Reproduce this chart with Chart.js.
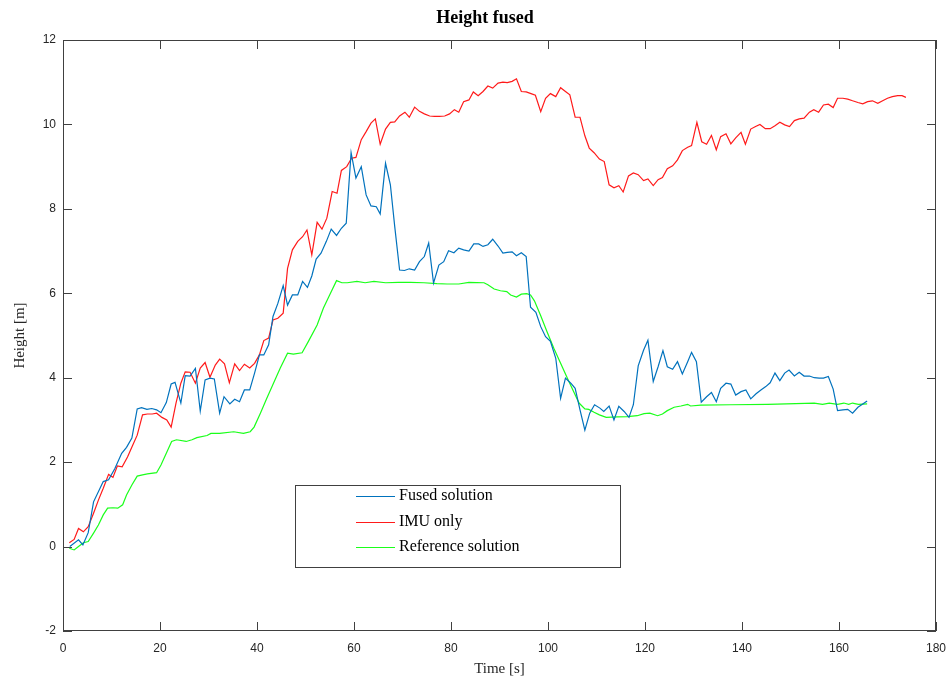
<!DOCTYPE html>
<html>
<head>
<meta charset="utf-8">
<title>Height fused</title>
<script src="https://cdn.jsdelivr.net/npm/chart.js@4.4.1/dist/chart.umd.min.js"></script>
<style>
    html, body { margin: 0; padding: 0; background: #fff; }
    #wrap { width: 946px; height: 679px; }
</style>
</head>
<body>
<div id="wrap"><canvas id="heightChart" width="946" height="679"></canvas></div>
<script>
// Fused solution
const fusedTime = [1.4, 3.2, 4.1, 5.2, 6.3, 8.3, 9.4, 10.7, 12.1, 13.1, 14.2, 15.3, 16.2, 17.3, 18.3, 19.3, 20.2, 21.3, 22.3, 23.1,
    24.3, 25.2, 26.2, 27.3, 28.3, 29.3, 30.3, 31.2, 32.3, 33.2, 34.4, 35.4, 36.4, 37.4, 38.5, 39.5, 40.5, 41.4, 42.4, 43.3,
    44.3, 45.4, 46.3, 47.3, 48.4, 49.4, 50.4, 51.3, 52.2, 53.2, 54.3, 55.3, 56.4, 57.4, 58.4, 59.4, 60.4, 61.5, 62.5, 63.5,
    64.6, 65.4, 66.5, 67.5, 68.4, 69.4, 70.4, 71.4, 72.5, 73.5, 74.5, 75.4, 76.4, 77.5, 78.5, 79.5, 80.6, 81.6, 82.6, 83.7,
    84.7, 85.7, 86.6, 87.6, 88.6, 89.7, 90.7, 91.6, 92.6, 93.5, 94.5, 95.5, 96.4, 97.5, 98.5, 99.5, 100.5, 101.6, 102.6, 103.6,
    104.7, 105.6, 106.6, 107.6, 108.6, 109.6, 110.7, 111.5, 112.6, 113.6, 114.6, 115.7, 116.7, 117.6, 118.6, 119.7, 120.6, 121.7, 122.7, 123.7,
    124.6, 125.7, 126.7, 127.7, 128.8, 129.6, 130.6, 131.6, 132.7, 133.7, 134.7, 135.6, 136.7, 137.7, 138.7, 139.8, 140.8, 141.8, 142.9, 143.9,
    144.9, 145.8, 146.8, 147.8, 148.8, 149.7, 150.8, 151.8, 152.8, 153.9, 154.9, 155.9, 156.8, 157.8, 158.8, 159.7, 160.8, 161.8, 162.8, 163.9,
    164.9, 165.8];
const fusedHeight = [0, 0.16, 0.04, 0.33, 1.06, 1.54, 1.58, 1.85, 2.21, 2.35, 2.57, 3.26, 3.29, 3.25, 3.27, 3.24, 3.17, 3.41, 3.85, 3.89,
    3.40, 4.05, 4.04, 4.22, 3.21, 3.95, 3.99, 3.97, 3.16, 3.55, 3.38, 3.49, 3.43, 3.71, 3.71, 4.11, 4.54, 4.54, 4.78, 5.45,
    5.76, 6.18, 5.72, 5.96, 5.96, 6.28, 6.14, 6.41, 6.81, 6.95, 7.23, 7.52, 7.37, 7.54, 7.66, 9.33, 8.73, 9.0, 8.33, 8.07,
    8.05, 7.88, 9.08, 8.57, 7.58, 6.55, 6.54, 6.58, 6.55, 6.75, 6.87, 7.19, 6.24, 6.67, 6.75, 7.01, 6.96, 7.07, 7.03, 7.0,
    7.17, 7.17, 7.11, 7.15, 7.28, 7.12, 6.95, 6.97, 6.98, 6.89, 6.96, 6.87, 5.67, 5.55, 5.21, 4.97, 4.86, 4.46, 3.51, 3.99,
    3.87, 3.75, 3.24, 2.76, 3.16, 3.36, 3.28, 3.2, 3.33, 3.0, 3.32, 3.2, 3.06, 3.36, 4.28, 4.65, 4.89, 3.91, 4.26, 4.64,
    4.26, 4.2, 4.38, 4.09, 4.38, 4.6, 4.38, 3.42, 3.55, 3.65, 3.43, 3.75, 3.87, 3.85, 3.59, 3.67, 3.71, 3.5, 3.62, 3.71,
    3.79, 3.88, 4.11, 3.93, 4.11, 4.18, 4.04, 4.13, 4.04, 4.04, 4.0, 3.99, 3.99, 4.03, 3.73, 3.22, 3.24, 3.25, 3.16, 3.3,
    3.38, 3.45];

// IMU only
const imuTime = [1.3, 2.3, 3.2, 4.2, 5.2, 6.3, 7.3, 8.3, 9.4, 10.3, 11.2, 12.2, 13.3, 14.3, 15.3, 16.4, 17.4, 18.4, 19.3, 20.4,
    21.4, 22.3, 23.3, 24.3, 25.2, 26.2, 27.3, 28.3, 29.3, 30.3, 31.4, 32.3, 33.3, 34.3, 35.4, 36.4, 37.4, 38.5, 39.5, 40.5,
    41.4, 42.4, 43.3, 44.3, 45.4, 46.3, 47.3, 48.4, 49.4, 50.3, 51.3, 52.4, 53.4, 54.4, 55.5, 56.5, 57.4, 58.5, 59.5, 60.4,
    61.5, 62.5, 63.5, 64.4, 65.4, 66.5, 67.5, 68.4, 69.4, 70.5, 71.4, 72.5, 73.5, 74.5, 75.6, 76.6, 77.6, 78.7, 79.7, 80.7,
    81.6, 82.6, 83.7, 84.6, 85.6, 86.6, 87.6, 88.6, 89.7, 90.7, 91.6, 92.6, 93.5, 94.5, 95.5, 96.5, 97.4, 98.5, 99.5, 100.5,
    101.6, 102.6, 103.6, 104.5, 105.6, 106.6, 107.6, 108.5, 109.5, 110.6, 111.6, 112.6, 113.6, 114.6, 115.5, 116.6, 117.6, 118.6, 119.7, 120.6,
    121.7, 122.7, 123.6, 124.6, 125.7, 126.7, 127.7, 128.8, 129.6, 130.7, 131.7, 132.7, 133.7, 134.7, 135.6, 136.7, 137.7, 138.7, 139.8, 140.7,
    141.8, 142.8, 143.7, 144.8, 145.8, 146.8, 147.8, 148.8, 149.8, 150.8, 151.8, 152.8, 153.9, 154.8, 155.8, 156.8, 157.8, 158.8, 159.7, 160.8,
    161.8, 162.8, 163.9, 164.9, 165.9, 166.9, 168.0, 169.0, 170.0, 171.0, 172.1, 173.0, 173.8];
const imuHeight = [0.09, 0.17, 0.43, 0.35, 0.47, 0.79, 1.1, 1.38, 1.71, 1.64, 1.91, 1.89, 2.12, 2.38, 2.64, 3.12, 3.14, 3.14, 3.16, 3.06,
    3.0, 2.83, 3.4, 3.87, 4.14, 4.13, 3.87, 4.23, 4.36, 4.01, 4.3, 4.44, 4.33, 3.88, 4.33, 4.17, 4.32, 4.23, 4.34, 4.54,
    4.88, 4.94, 5.37, 5.41, 5.53, 6.59, 7.03, 7.23, 7.34, 7.5, 6.91, 7.68, 7.52, 7.78, 8.41, 8.37, 8.91, 9.0, 9.2, 9.22,
    9.64, 9.83, 10.03, 10.13, 9.53, 9.89, 10.05, 10.06, 10.2, 10.29, 10.17, 10.41, 10.31, 10.25, 10.2, 10.19, 10.19, 10.2, 10.25, 10.35,
    10.29, 10.54, 10.58, 10.77, 10.68, 10.78, 10.91, 10.86, 10.98, 11.0, 10.99, 11.02, 11.08, 10.78, 10.77, 10.73, 10.69, 10.3, 10.62, 10.73,
    10.66, 10.87, 10.78, 10.7, 10.17, 10.17, 9.73, 9.44, 9.33, 9.18, 9.12, 8.57, 8.5, 8.55, 8.4, 8.78, 8.85, 8.81, 8.67, 8.71,
    8.55, 8.69, 8.74, 8.95, 9.02, 9.16, 9.38, 9.46, 9.5, 10.05, 9.59, 9.53, 9.74, 9.4, 9.71, 9.78, 9.54, 9.68, 9.81, 9.53,
    9.89, 9.95, 10.0, 9.9, 9.9, 9.97, 10.05, 9.99, 9.95, 10.09, 10.13, 10.15, 10.29, 10.35, 10.29, 10.46, 10.48, 10.4, 10.62, 10.62,
    10.6, 10.56, 10.52, 10.49, 10.54, 10.56, 10.5, 10.56, 10.62, 10.66, 10.68, 10.68, 10.64];

// Reference solution
const refTime = [1.3, 2.3, 3.2, 4.2, 5.2, 6.3, 7.3, 8.3, 9.2, 10.3, 11.3, 12.3, 13.1, 14.2, 15.3, 16.4, 17.4, 19.3, 20.2, 21.3,
    22.4, 23.4, 25.4, 26.6, 27.6, 29.7, 30.5, 32.3, 35.2, 37.2, 38.6, 39.4, 40.7, 42.0, 43.4, 44.8, 46.3, 47.5, 49.3, 50.6,
    52.4, 53.7, 55.1, 56.4, 57.5, 58.6, 60.6, 62.3, 64.1, 66.5, 69.2, 71.6, 74.4, 77.1, 79.2, 81.6, 83.7, 86.8, 87.6, 88.9,
    90.2, 91.5, 92.3, 93.5, 94.5, 95.6, 96.4, 97.2, 98.5, 99.8, 101.2, 102.6, 104.0, 105.3, 106.4, 107.6, 108.4, 109.5, 110.6, 112.0,
    114.3, 116.4, 118.4, 119.8, 121.0, 122.6, 123.6, 124.6, 126.0, 127.4, 128.8, 129.4, 131.5, 137.7, 145.3, 154.9, 156.6, 158.0, 159.7, 161.0,
    162.0, 162.8, 164.0, 165.8];
const refHeight = [-0.04, -0.08, 0, 0.09, 0.12, 0.32, 0.51, 0.75, 0.91, 0.92, 0.91, 0.99, 1.22, 1.46, 1.67, 1.7, 1.72, 1.75, 1.93, 2.21,
    2.49, 2.53, 2.49, 2.53, 2.58, 2.63, 2.68, 2.68, 2.72, 2.68, 2.72, 2.83, 3.16, 3.51, 3.87, 4.23, 4.58, 4.56, 4.59, 4.86,
    5.25, 5.65, 5.99, 6.3, 6.25, 6.25, 6.28, 6.25, 6.28, 6.25, 6.26, 6.26, 6.25, 6.23, 6.22, 6.22, 6.26, 6.25, 6.2, 6.1,
    6.06, 6.04, 5.96, 5.91, 5.98, 5.99, 5.96, 5.82, 5.47, 5.09, 4.7, 4.34, 3.99, 3.67, 3.4, 3.26, 3.25, 3.18, 3.12, 3.06,
    3.07, 3.08, 3.1, 3.15, 3.16, 3.1, 3.14, 3.22, 3.3, 3.33, 3.37, 3.33, 3.35, 3.36, 3.37, 3.4, 3.37, 3.4, 3.37, 3.4,
    3.37, 3.4, 3.37, 3.38];

const chartTitle = 'Height fused';
const seriesLabels = ['Fused solution', 'IMU only', 'Reference solution'];
const seriesColors = ['#0072bd', '#ff1a1a', '#1aff1a'];

const toPoints = (xs, ys) => xs.map((x, i) => ({ x: x, y: ys[i] }));

// Başlık, kutu, içe dönük tick çizgileri ve lejant (MATLAB görünümü)
const boxPlugin = {
    id: 'matlabBox',
    afterDatasetsDraw(chart) {
        const { ctx, chartArea: a, scales } = chart;
        const tickLen = 9;
        ctx.save();

        // başlık
        ctx.font = 'bold 18px "Liberation Serif", "Times New Roman", serif';
        ctx.fillStyle = '#000';
        ctx.textAlign = 'center';
        ctx.textBaseline = 'middle';
        ctx.fillText(chartTitle, 485, 18);

        ctx.strokeStyle = '#404040';
        ctx.lineWidth = 1;
        ctx.strokeRect(a.left + 0.5, a.top + 0.5, a.right - a.left - 1, a.bottom - a.top - 1);
        ctx.beginPath();
        scales.x.ticks.forEach((t) => {
            const px = Math.round(scales.x.getPixelForValue(t.value)) + 0.5;
            ctx.moveTo(px, a.bottom);
            ctx.lineTo(px, a.bottom - tickLen);
            ctx.moveTo(px, a.top);
            ctx.lineTo(px, a.top + tickLen);
        });
        scales.y.ticks.forEach((t) => {
            const py = Math.round(scales.y.getPixelForValue(t.value)) + 0.5;
            ctx.moveTo(a.left, py);
            ctx.lineTo(a.left + tickLen, py);
            ctx.moveTo(a.right, py);
            ctx.lineTo(a.right - tickLen, py);
        });
        ctx.stroke();

        // lejant kutusu
        const lx = 295, ly = 485, lw = 325, lh = 82;
        ctx.fillStyle = '#fff';
        ctx.fillRect(lx, ly, lw, lh);
        ctx.strokeStyle = '#404040';
        ctx.strokeRect(lx + 0.5, ly + 0.5, lw, lh);
        ctx.font = '16px "Liberation Serif", "Times New Roman", serif';
        ctx.textAlign = 'left';
        ctx.fillStyle = '#000';
        chart.data.datasets.forEach((ds, i) => {
            const rowY = ly + 11 + i * 25.5;
            ctx.strokeStyle = ds.borderColor;
            ctx.beginPath();
            ctx.moveTo(356, Math.round(rowY) + 0.5);
            ctx.lineTo(395, Math.round(rowY) + 0.5);
            ctx.stroke();
            ctx.fillText(ds.label, 399, rowY);
        });
        ctx.restore();
    },
};

document.addEventListener('DOMContentLoaded', () => {
    const ctx = document.getElementById('heightChart').getContext('2d');
    const tickFont = { family: '"Liberation Sans Narrow", "Liberation Sans", Arial, sans-serif', size: 12 };
    const labelFont = { family: '"Liberation Serif", "Times New Roman", serif', size: 15 };

    new Chart(ctx, {
        type: 'line',
        data: {
            datasets: [
                { label: seriesLabels[0], data: toPoints(fusedTime, fusedHeight), borderColor: seriesColors[0] },
                { label: seriesLabels[1], data: toPoints(imuTime, imuHeight), borderColor: seriesColors[1] },
                { label: seriesLabels[2], data: toPoints(refTime, refHeight), borderColor: seriesColors[2] },
            ],
        },
        options: {
            responsive: false,
            animation: false,
            devicePixelRatio: 1,
            layout: { padding: { left: 0, right: 10, top: 40, bottom: 0 } },
            elements: {
                point: { radius: 0 },
                line: { borderWidth: 1.2, tension: 0, fill: false },
            },
            plugins: {
                legend: { display: false },
                tooltip: { enabled: false },
                title: { display: false },
            },
            scales: {
                x: {
                    type: 'linear',
                    min: 0,
                    max: 180,
                    ticks: { stepSize: 20, color: '#262626', font: tickFont, padding: 10, maxRotation: 0 },
                    grid: { display: false, drawTicks: false },
                    border: { display: false },
                    title: { display: true, text: 'Time [s]', color: '#262626', font: labelFont, padding: { top: 4, bottom: 1 } },
                    afterFit: (scale) => {
                        scale.height = 48;
                        scale.paddingLeft = 0;
                        scale.paddingRight = 0;
                    },
                },
                y: {
                    min: -2,
                    max: 12,
                    ticks: { stepSize: 2, color: '#262626', font: tickFont, padding: 7 },
                    grid: { display: false, drawTicks: false },
                    border: { display: false },
                    title: { display: true, text: 'Height [m]', color: '#262626', font: labelFont, padding: { top: 11, bottom: 4 } },
                    afterFit: (scale) => {
                        scale.width = 63;
                        scale.paddingTop = 0;
                        scale.paddingBottom = 0;
                    },
                },
            },
        },
        plugins: [boxPlugin],
    });
});
</script>
</body>
</html>
